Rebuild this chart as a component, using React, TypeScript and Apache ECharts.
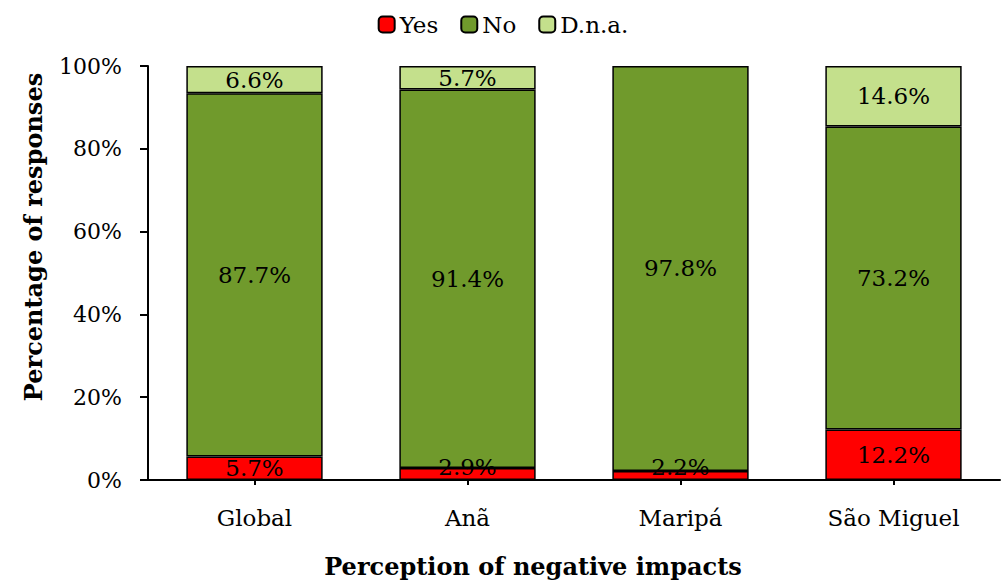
import React, { useEffect, useRef } from "react";
import * as echarts from "echarts";

const categories = ["Global", "Anã", "Maripá", "São Miguel"];
const yesValues = [5.7, 2.9, 2.2, 12.2];
const noValues = [87.7, 91.4, 97.8, 73.2];
const dnaValues = [6.6, 5.7, 0, 14.6];
const seriesNames = ["Yes", "No", "D.n.a."];
const yTicks = [0, 20, 40, 60, 80, 100];

const FONT = "DejaVu Serif";
const FS = 23;

export default function App() {
  const ref = useRef<HTMLDivElement>(null);
  useEffect(() => {
    if (!ref.current) return;
    const chart = echarts.init(ref.current, null, { renderer: "svg" });
    const labelFmt = (p: any) => (p.value > 0 ? p.value.toFixed(1) + "%" : "");
    const mkData = (vals: number[], small: boolean) =>
      vals.map((v) => ({
        value: v > 0 ? v : null,
        label:
          small && v < 5
            ? { position: "insideBottom", distance: 2 }
            : { position: "inside" },
      }));
    const colors = ["#FF0000", "#709A2C", "#C4E08C"];
    const allVals = [yesValues, noValues, dnaValues];
    chart.setOption({
      animation: false,
      textStyle: { fontFamily: FONT },
      legend: {
        top: 8,
        left: "center",
        itemWidth: 16,
        itemHeight: 16,
        itemGap: 22,
        textStyle: { fontFamily: FONT, fontSize: 23, color: "#000" },
        data: seriesNames,
      },
      grid: { left: 148, right: 6, top: 66, bottom: 104, containLabel: false },
      xAxis: {
        type: "category",
        data: categories,
        axisLine: { lineStyle: { color: "#000", width: 2 } },
        axisTick: { show: true, alignWithLabel: true, length: 5, lineStyle: { color: "#000", width: 2 } },
        axisLabel: { fontFamily: FONT, fontSize: FS, color: "#000", margin: 26 },
      },
      yAxis: {
        type: "value",
        min: 0,
        max: 100,
        interval: 20,
        splitLine: { show: false },
        axisLine: { show: true, lineStyle: { color: "#000", width: 2 } },
        axisTick: { show: true, length: 8, lineStyle: { color: "#000", width: 2 } },
        axisLabel: {
          fontFamily: FONT,
          fontSize: 22,
          color: "#000",
          margin: 26,
          formatter: (v: number) => (yTicks.includes(v) ? v + "%" : ""),
        },
      },
      graphic: [
        {
          type: "text",
          x: 33,
          y: 237,
          rotation: Math.PI / 2,
          style: {
            text: "Percentage of responses",
            font: `bold 24px "${FONT}"`,
            fill: "#000",
            align: "center",
            verticalAlign: "middle",
          },
        },
        {
          type: "text",
          x: 533,
          y: 566,
          style: {
            text: "Perception of negative impacts",
            font: `bold 24px "${FONT}"`,
            fill: "#000",
            align: "center",
            verticalAlign: "middle",
          },
        },
      ],
      series: seriesNames.map((name, i) => ({
        name,
        type: "bar",
        stack: "total",
        barWidth: "64%",
        data: mkData(allVals[i], i === 0),
        itemStyle: { color: colors[i], borderColor: "#000", borderWidth: 1.5 },
        label: {
          show: true,
          formatter: labelFmt,
          fontFamily: FONT,
          fontSize: FS,
          color: "#000",
        },
      })),
    });
    return () => chart.dispose();
  }, []);
  return (
    <div
      ref={ref}
      style={{ position: "fixed", left: 0, top: 0, width: 1006, height: 584, background: "#fff" }}
    />
  );
}
